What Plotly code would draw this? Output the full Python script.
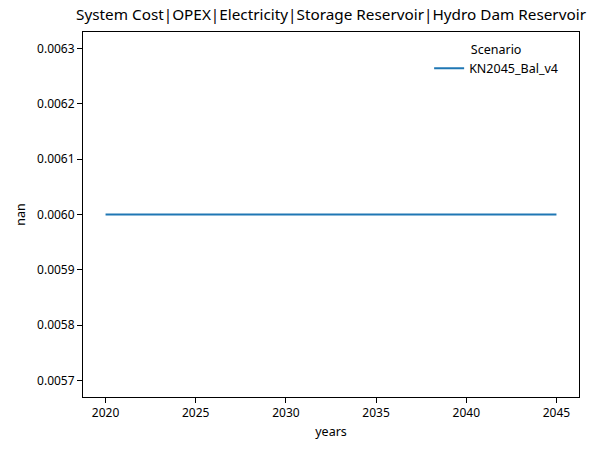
import plotly.graph_objects as go

years = [2020, 2025, 2030, 2035, 2040, 2045]
values = [0.006, 0.006, 0.006, 0.006, 0.006, 0.006]
series_name = "KN2045_Bal_v4"
title = "System Cost|OPEX|Electricity|Storage Reservoir|Hydro Dam Reservoir"
y_ticks = [0.0057, 0.0058, 0.0059, 0.0060, 0.0061, 0.0062, 0.0063]
x_ticks = [2020, 2025, 2030, 2035, 2040, 2045]

font_family = "Noto Sans, DejaVu Sans, sans-serif"

fig = go.Figure()
fig.add_trace(go.Scatter(
    x=years, y=values, mode="lines", name=series_name,
    line=dict(color="#1f77b4", width=2),
))

axis_common = dict(
    showline=True, linecolor="black", linewidth=1, mirror=True,
    ticks="outside", ticklen=5, tickwidth=1, tickcolor="black",
    showgrid=False, zeroline=False, automargin=False,
    tickfont=dict(size=12, color="black", family=font_family),
)

# the page body adds an 8px offset, so the figure is 8px smaller
fig.update_layout(
    width=596, height=448,
    margin=dict(l=75, r=25, t=24, b=59),
    plot_bgcolor="white", paper_bgcolor="white",
    font=dict(family=font_family, color="black", size=12),
    title=dict(text=title, x=0.5, xref="paper", xanchor="center",
               y=1 - 1/448, yanchor="top", automargin=False,
               font=dict(size=15.3, color="black", family=font_family)),
    xaxis=dict(range=[2018.75, 2046.25], tickvals=x_ticks,
               title=dict(text="years", font=dict(size=12.5), standoff=6), **axis_common),
    yaxis=dict(range=[0.00567, 0.00633], tickvals=y_ticks,
               ticktext=[f"{v:.4f}" for v in y_ticks],
               title=dict(text="nan", font=dict(size=12.5), standoff=8), **axis_common),
    legend=dict(x=0.968, y=0.985, xanchor="right", yanchor="top",
                title=dict(text="Scenario", side="top center", font=dict(size=12.5)),
                bgcolor="rgba(0,0,0,0)", font=dict(size=12.5)),
    showlegend=True,
)

fig.write_html("out.html")
